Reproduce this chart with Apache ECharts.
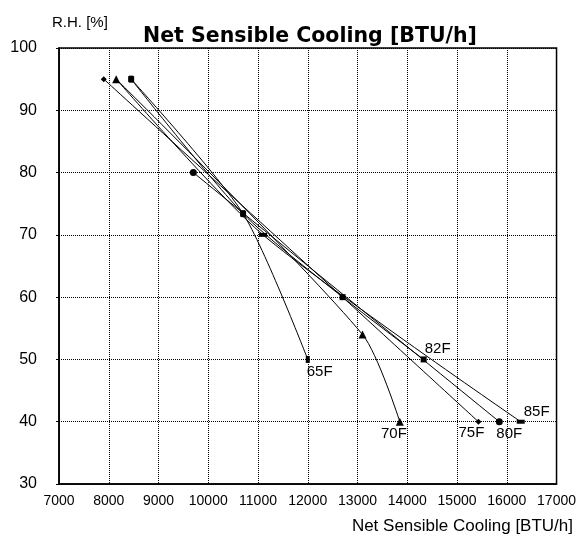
<!DOCTYPE html>
<html>
<head>
<meta charset="utf-8">
<script src="https://cdn.jsdelivr.net/npm/echarts@6/dist/echarts.min.js"></script>
<style>
html,body{margin:0;padding:0;background:#fff;}
#c{width:579px;height:545px;}
</style>
</head>
<body>
<div id="c"></div>
<script>
// ---- data ----
const seriesNames = ['65F', '70F', '75F', '80F', '82F', '85F'];
const s65 = [[8450, 95], [10700, 73.4], [12000, 50]];
const s70 = [[8150, 95], [13100, 54], [13850, 40]];
const s75 = [[7900, 95], [12700, 60], [15430, 40]];
const s80 = [[9700, 80], [15850, 40]];
const s82 = [[8450, 95], [10700, 73.4], [12700, 60], [14330, 50]];
const s85 = [[8150, 95], [11100, 70], [16280, 40]];
const xTicks = [7000, 8000, 9000, 10000, 11000, 12000, 13000, 14000, 15000, 16000, 17000];
const yTicks = [30, 40, 50, 60, 70, 80, 90, 100];

const allData = [s65, s70, s75, s80, s82, s85];

// ---- styles ----
const FONT = 'Liberation Sans, Arial, sans-serif';
const markerStyles = {
  '65F': { symbol: 'rect', size: [4, 7], z: 3, hideFirst: false },
  '70F': { symbol: 'triangle', size: [8, 8], z: 6, hideFirst: false },
  '75F': { symbol: 'diamond', size: [6, 6], z: 3, hideFirst: false },
  '80F': { symbol: 'circle', size: [7, 7], z: 3, hideFirst: false },
  '82F': { symbol: 'rect', size: [6, 6], z: 5, hideFirst: false },
  '85F': { symbol: 'rect', size: [8, 4], z: 4, hideFirst: true }
};
const endLabels = {
  '65F': { position: 'bottom', align: 'left', offset: [-1, 0], distance: 1 },
  '70F': { position: 'bottom', align: 'right', offset: [7, 0], distance: 1 },
  '75F': { position: 'bottom', align: 'center', offset: [-7, 0], distance: 1 },
  '80F': { position: 'bottom', align: 'left', offset: [-3, 0], distance: 1 },
  '82F': { position: 'top', align: 'left', offset: [1, 0], distance: 0 },
  '85F': { position: 'top', align: 'left', offset: [3, 0], distance: 0 }
};

const series = seriesNames.map((name, i) => {
  const d = allData[i];
  const m = markerStyles[name];
  const lab = endLabels[name];
  return {
    name: name,
    type: 'line',
    smooth: 0.25,
    symbol: m.symbol,
    symbolSize: m.size,
    itemStyle: { color: '#000' },
    lineStyle: { color: '#000', width: 1 },
    data: d.map((p, j) => {
      const item = { value: p };
      if (j === 0 && m.hideFirst) item.symbol = 'none';
      if (j === d.length - 1) {
        item.label = {
          show: true,
          formatter: name,
          position: lab.position,
          align: lab.align,
          offset: lab.offset,
          distance: lab.distance,
          color: '#000',
          fontFamily: FONT,
          fontSize: 15
        };
      }
      return item;
    }),
    emphasis: { disabled: true },
    animation: false,
    z: m.z
  };
});

const chart = echarts.init(document.getElementById('c'), null, { renderer: 'canvas' });
chart.setOption({
  backgroundColor: '#fff',
  animation: false,
  title: [
    {
      text: 'Net Sensible Cooling [BTU/h]',
      left: 305, top: 21, textAlign: 'center',
      textStyle: { fontFamily: 'DejaVu Sans, sans-serif', fontWeight: 'bold', fontSize: 20.5, color: '#000' }
    },
    {
      text: 'R.H. [%]',
      left: 47, top: 10,
      textStyle: { fontFamily: FONT, fontWeight: 'normal', fontSize: 15, color: '#000' }
    },
    {
      text: 'Net Sensible Cooling [BTU/h]',
      right: 1, top: 513,
      textStyle: { fontFamily: FONT, fontWeight: 'normal', fontSize: 17, color: '#000' }
    }
  ],
  grid: {
    left: 59, right: 22, top: 48, bottom: 61,
    show: true, borderColor: '#000', borderWidth: 1.5, backgroundColor: 'transparent'
  },
  xAxis: {
    type: 'value',
    min: xTicks[0], max: xTicks[xTicks.length - 1], interval: 1000,
    axisLine: { show: true, lineStyle: { color: '#000', width: 1.5 } },
    axisTick: { show: false },
    axisLabel: { color: '#000', fontFamily: FONT, fontSize: 14, margin: 10, formatter: v => String(v) },
    splitLine: { show: true, lineStyle: { color: '#000', width: 1, type: [1, 1] } }
  },
  yAxis: {
    type: 'value',
    min: yTicks[0], max: yTicks[yTicks.length - 1], interval: 10,
    axisLine: { show: true, lineStyle: { color: '#000', width: 1.5 } },
    axisTick: { show: true, inside: false, length: 3, lineStyle: { color: '#000' } },
    axisLabel: { color: '#000', fontFamily: FONT, fontSize: 16, margin: 22, formatter: v => String(v) },
    splitLine: { show: true, lineStyle: { color: '#000', width: 1, type: [1, 1] } }
  },
  series: series
});
</script>
</body>
</html>
